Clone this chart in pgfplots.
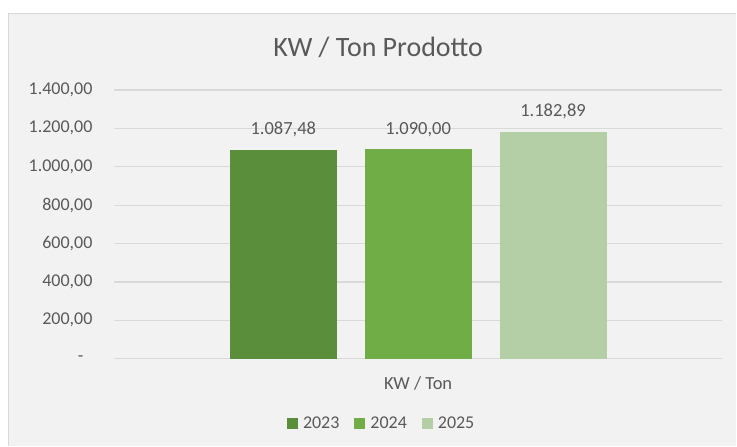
\documentclass[border=0pt]{standalone}
\usepackage{pgfplots}
\pgfplotsset{compat=1.18}
\usepackage{fontspec}
\setmainfont{Carlito}
\definecolor{txt}{HTML}{595959}
\definecolor{bg}{HTML}{F2F2F2}
\definecolor{bd}{HTML}{D9D9D9}
\definecolor{cA}{HTML}{5A8E3A}
\definecolor{cB}{HTML}{70AD47}
\definecolor{cC}{HTML}{B4CFA6}
\begin{document}
\begin{tikzpicture}[x=1bp,y=1bp]
\fill[white] (0,0) rectangle (737,446);
\fill[bg] (8,0) rectangle (737,433);
\draw[bd, line width=1.2bp] (8.6,0) -- (8.6,432.4) -- (737,432.4);
\node[anchor=base, text=txt, inner sep=0pt, font=\fontsize{28bp}{32bp}\selectfont] at (378.5,389.3) {KW / Ton Prodotto};
\begin{axis}[
  at={(114bp,87bp)}, anchor=south west, scale only axis,
  width=609bp, height=269bp,
  xmin=114, xmax=723, ymin=0, ymax=1400,
  clip=false,
  axis line style={draw=none},
  tick style={draw=none}, major tick length=0pt,
  ymajorgrids, major grid style={draw=bd, line width=1.2bp},
  ytick={0,200,400,600,800,1000,1200,1400},
  yticklabels={{-\hspace*{9bp}},{200,00},{400,00},{600,00},{800,00},{1.000,00},{1.200,00},{1.400,00}},
  yticklabel style={font=\fontsize{18bp}{20bp}\selectfont, text=txt, inner sep=0pt, anchor=east, xshift=-21.3bp},
  xtick={418.5}, xticklabels={KW / Ton},
  xticklabel style={font=\fontsize{18.5bp}{20bp}\selectfont, text=txt, inner sep=0pt, anchor=base, yshift=-31bp},
  nodes near coords={\pgfmathprintnumber[fixed,fixed zerofill,precision=2,1000 sep={.},dec sep={,},assume math mode=true]{\pgfplotspointmeta}},
  every node near coord/.append style={font=\fontsize{18.5bp}{20bp}\selectfont, text=txt, inner sep=0pt, anchor=base, yshift=15bp},
  legend image code/.code={\fill[#1] (0bp,-5.5bp) rectangle (11bp,5.5bp);},
  legend style={at={(axis description cs:0.4384,-0.2416)}, anchor=center, legend columns=3, draw=none, fill=none,
    font=\fontsize{18bp}{20bp}\selectfont, text=txt, inner sep=0pt,
    nodes={inner sep=0pt}, column sep=5bp,
    /tikz/column 2/.style={column sep=15bp}, /tikz/column 4/.style={column sep=15bp}},
]
\addplot[ybar, bar width=107, bar shift=0pt, fill=cA, draw=none] coordinates {(283.5,1087.48)};
\addplot[ybar, bar width=107, bar shift=0pt, fill=cB, draw=none] coordinates {(418.5,1090.00)};
\addplot[ybar, bar width=107, bar shift=0pt, fill=cC, draw=none] coordinates {(553.5,1182.89)};
\legend{2023,2024,2025}
\end{axis}
\end{tikzpicture}
\end{document}
